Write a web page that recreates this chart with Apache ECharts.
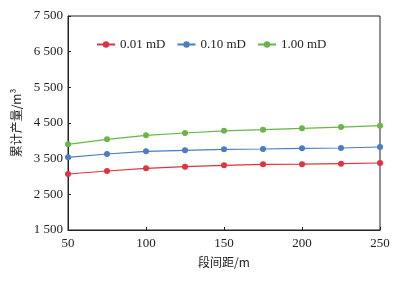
<!DOCTYPE html>
<html><head><meta charset="utf-8">
<script src="https://cdn.jsdelivr.net/npm/echarts@6/dist/echarts.min.js"></script>
<style>html,body{margin:0;padding:0;background:#fff}#c{width:409px;height:282px}</style>
</head><body><div id="c"></div>
<script>
var spacing = [50, 75, 100, 125, 150, 175, 200, 225, 250];
var seriesNames = ['0.01 mD', '0.10 mD', '1.00 mD'];
var perm001 = [3070, 3154, 3230, 3276, 3312, 3341, 3345, 3360, 3378];
var perm010 = [3538, 3631, 3706, 3734, 3762, 3771, 3790, 3799, 3827];
var perm100 = [3903, 4043, 4155, 4219, 4280, 4313, 4350, 4387, 4424];
var yTicks = [1500, 2500, 3500, 4500, 5500, 6500, 7500];
var xTicks = [50, 100, 150, 200, 250];
var colors = ['#e1323f', '#4a7cc1', '#69b548'];
var serif = '"Liberation Serif","DejaVu Serif",serif';

function pts(v){ return spacing.map(function(x,i){ return [x, v[i]]; }); }
function fmt(v){ var s = String(v); return s.length > 3 ? s.slice(0, s.length-3) + ' ' + s.slice(-3) : s; }

var chart = echarts.init(document.getElementById('c'));
chart.setOption({
  animation: false,
  color: colors,
  grid: { left: 68, right: 29, top: 16, bottom: 52, show: true, borderColor: '#222', borderWidth: 1, backgroundColor: 'transparent' },
  legend: {
    top: 33, left: 91, itemWidth: 18, itemHeight: 8, itemGap: 11,
    textStyle: { fontFamily: serif, fontSize: 13, color: '#222' },
    data: seriesNames
  },
  xAxis: {
    type: 'value', min: 50, max: 250,
    name: '段间距/m', nameLocation: 'middle', nameGap: 26,
    nameTextStyle: { fontFamily: '"Noto Sans CJK SC",' + serif, fontSize: 12, color: '#222' },
    axisLine: { lineStyle: { color: '#222' } },
    axisTick: { inside: true, length: 3, customValues: xTicks, lineStyle: { color: '#222' } },
    axisLabel: { customValues: xTicks, fontFamily: serif, fontSize: 13, color: '#222', margin: 7 },
    splitLine: { show: false }
  },
  yAxis: {
    type: 'value', min: 1500, max: 7500,
    name: '累计产量/m³', nameLocation: 'middle', nameGap: 42,
    nameTextStyle: { fontFamily: '"Noto Sans CJK SC",' + serif, fontSize: 12, color: '#222' },
    axisLine: { show: true, lineStyle: { color: '#222' } },
    axisTick: { show: true, inside: true, length: 3, customValues: yTicks, lineStyle: { color: '#222' } },
    axisLabel: { customValues: yTicks, fontFamily: serif, fontSize: 13, color: '#222', margin: 5, formatter: function(v){ return fmt(v); } },
    splitLine: { show: false }
  },
  series: [
    { name: seriesNames[0], type: 'line', data: pts(perm001), symbol: 'circle', symbolSize: 6, lineStyle: { width: 1.2 } },
    { name: seriesNames[1], type: 'line', data: pts(perm010), symbol: 'circle', symbolSize: 6, lineStyle: { width: 1.2 } },
    { name: seriesNames[2], type: 'line', data: pts(perm100), symbol: 'circle', symbolSize: 6, lineStyle: { width: 1.2 } }
  ]
});
</script></body></html>
